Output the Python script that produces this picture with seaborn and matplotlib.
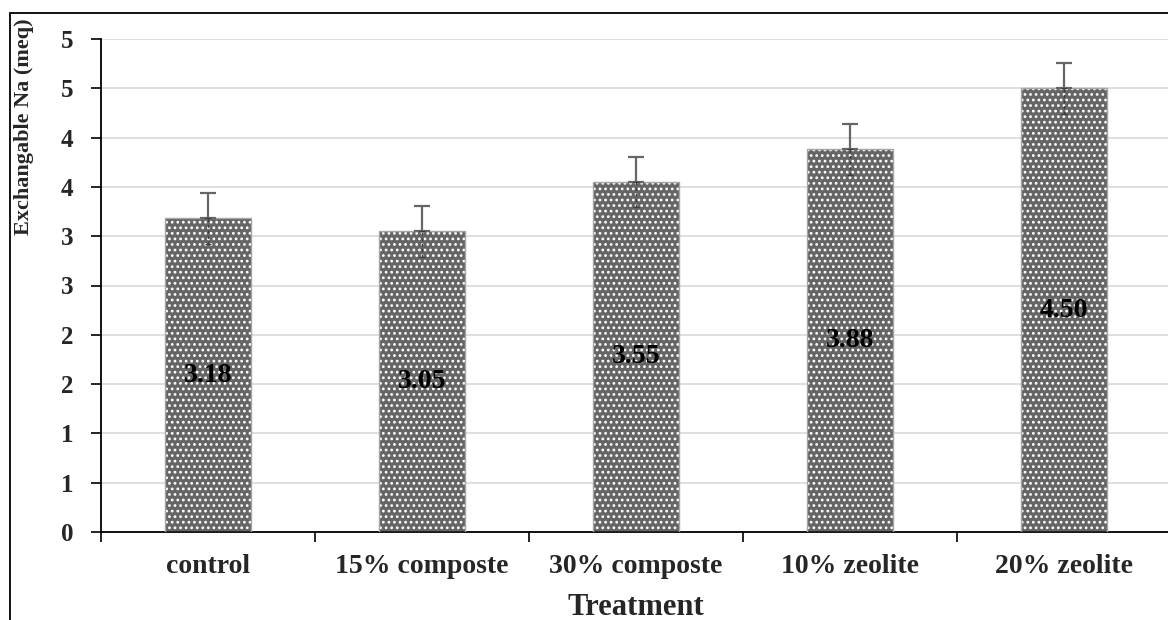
import numpy as np
import pandas as pd
import matplotlib
matplotlib.use("Agg")
import matplotlib.pyplot as plt
import seaborn as sns
from matplotlib.patches import Rectangle

# dados
tratamentos = ["control", "15% composte", "30% composte", "10% zeolite", "20% zeolite"]
na_trocavel = [3.18, 3.05, 3.55, 3.88, 4.50]
erro_padrao = [0.26, 0.26, 0.25, 0.26, 0.26]
yticks_pos = [0, 0.5, 1, 1.5, 2, 2.5, 3, 3.5, 4, 4.5, 5]
yticks_txt = ["0", "1", "1", "2", "2", "3", "3", "4", "4", "5", "5"]

df = pd.DataFrame({"Tratamento": tratamentos, "Na": na_trocavel})

sns.set_theme(style="white")
plt.rcParams["font.family"] = ["Liberation Serif", "DejaVu Serif"]
plt.rcParams["font.weight"] = "bold"
plt.rcParams["hatch.linewidth"] = 1.2

fig = plt.figure(figsize=(11.68, 6.2), dpi=100)
ax = fig.add_axes([101 / 1168, 1 - 532 / 620, 1070 / 1168, 493 / 620])

sns.barplot(data=df, x="Tratamento", y="Na", color="#656565", width=0.4,
            saturation=1, errorbar=None, ax=ax, zorder=2)

for p in ax.patches:
    p.set_hatch("...")
    p.set_edgecolor("white")
    p.set_linewidth(0)
    # contorno fino cinza
    ax.add_patch(Rectangle((p.get_x(), p.get_y()), p.get_width(), p.get_height(),
                           fill=False, edgecolor="#a6a6a6", linewidth=1.0, zorder=3))

x = np.arange(len(tratamentos))
eb_sup = ax.errorbar(x, na_trocavel, yerr=[np.zeros(len(x)), erro_padrao], fmt="none",
                     ecolor="#666666", elinewidth=1.6, capsize=5.8, capthick=1.6, zorder=4)
eb_inf = ax.errorbar(x, na_trocavel, yerr=[erro_padrao, np.zeros(len(x))], fmt="none",
                     ecolor="#3a3a3a", elinewidth=1.0, capsize=2.5, capthick=0.8, zorder=4)
eb_inf[2][0].set_linestyle((0, (2, 2)))

ax.bar_label(ax.containers[0], fmt="%.2f", label_type="center", fontsize=20,
             fontweight="bold", color="black", zorder=5)

ax.set_ylim(0, 5)
ax.set_xlim(-0.5, 4.5)
ax.set_yticks(yticks_pos)
ax.set_yticklabels(yticks_txt, fontsize=18, fontweight="bold")
ax.yaxis.grid(True, color="#d9d9d9", linewidth=1.2, zorder=0)
ax.set_axisbelow(True)

ax.set_xticks(np.arange(len(tratamentos) + 1) - 0.5)
ax.set_xticklabels([])
ax.set_xticks(x, minor=True)
ax.set_xticklabels(tratamentos, minor=True, fontsize=20, fontweight="bold")
ax.tick_params(axis="x", which="major", direction="out", length=7, width=1.2, color="black", bottom=True)
ax.tick_params(axis="x", which="minor", length=0, pad=16)
ax.tick_params(axis="y", direction="out", length=7, width=1.2, color="black", left=True, pad=13)

for lado in ["top", "right"]:
    ax.spines[lado].set_visible(False)
for lado in ["left", "bottom"]:
    ax.spines[lado].set_color("black")
    ax.spines[lado].set_linewidth(1.3)

ax.set_ylabel("Exchangable Na (meq)", fontsize=16, fontweight="bold")
ax.yaxis.set_label_coords(-0.063, 0.823)
ax.set_xlabel("Treatment", fontsize=22, fontweight="bold", va="baseline")
ax.xaxis.set_label_coords(0.5, (532 - 615) / 493)

# moldura do gráfico (cortada à direita e embaixo)
fig.patches.append(Rectangle((10 / 1168, -0.2), 1.2, 0.2 + 1 - 13 / 620, transform=fig.transFigure,
                             fill=False, edgecolor="black", linewidth=1.3))

plt.savefig("out.png", dpi=100)
plt.close()
